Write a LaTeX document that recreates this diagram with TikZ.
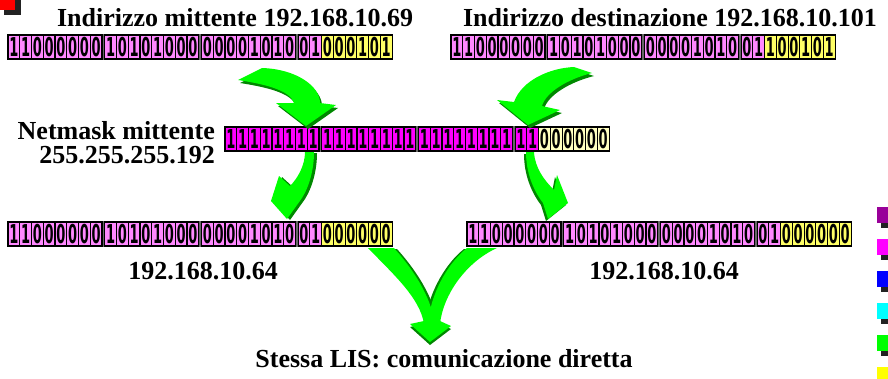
\documentclass[tikz,border=0pt]{standalone}
\usepackage{fontspec}
\setmainfont{Liberation Serif}
\newfontfamily\bitfont{DejaVu Sans}
\usepackage{graphicx}
\definecolor{netpink}{HTML}{FF88FF}
\definecolor{hostyel}{HTML}{FFFF66}
\definecolor{maskmag}{HTML}{FF00FF}
\definecolor{maskcream}{HTML}{FFFFC0}
\definecolor{arrowgreen}{HTML}{00FF00}
\definecolor{arrowdark}{HTML}{008800}
\definecolor{shadowgray}{HTML}{222222}
\definecolor{lgpurple}{HTML}{990099}
\definecolor{lgmagenta}{HTML}{FF00FF}
\definecolor{lgblue}{HTML}{0000FF}
\definecolor{lgcyan}{HTML}{00FFFF}
\definecolor{lggreen}{HTML}{00FF00}
\definecolor{lgyellow}{HTML}{FFFF00}
\newcommand{\bitdigit}[1]{\scalebox{0.5}[1]{\bitfont\bfseries\fontsize{26}{26}\selectfont #1}}
\def\cw{11.75}\def\gp{2.7}\def\ch{24}
\tikzset{
  bitcell/.style={draw=black, line width=1.2pt, minimum width=11.75pt, minimum height=24pt, inner sep=0pt, outer sep=0pt, text=black},
  bytegap/.style={fill=black!60},
  lbl/.style={inner sep=0pt, font=\bfseries\fontsize{26}{30}\selectfont, anchor=base},
  legendsq/.style={minimum width=16pt, minimum height=16pt, inner sep=0pt, outer sep=0pt},
}
\newcommand{\bitrow}[6]{%
  \fill[bytegap] (#2-1,#3-1) rectangle ++(32*\cw+3*\gp+2,\ch+2);
  \foreach \b [count=\i from 0] in {#4}{%
    \pgfmathtruncatemacro{\byi}{\i/8}%
    \pgfmathsetmacro{\xx}{#2+(\i+0.5)*\cw+\byi*\gp}%
    \ifnum\i<26\relax \def\fc{#5}\else \def\fc{#6}\fi
    \node[bitcell,fill=\fc] (#1-\i) at (\xx,#3+\ch/2) {\bitdigit{\b}};
  }}
\newcommand{\garrow}[3]{\fill[arrowdark,shift={(#1,#2)}] #3; \fill[arrowgreen] #3;}
\begin{document}
\begin{tikzpicture}[x=1pt,y=-1pt]
\useasboundingbox (0,0) rectangle (888,378);
\fill[white] (0,0) rectangle (888,378);

% corner mark
\fill[shadowgray] (4,-1) rectangle (21,15);
\fill[red] (-1,-6) rectangle (15,10);

% legend squares
\foreach \c [count=\k from 0] in {lgpurple,lgmagenta,lgblue,lgcyan,lggreen,lgyellow}{
  \fill[shadowgray] (881,{212+32*\k}) rectangle ++(16,16);
  \node[legendsq,fill=\c,anchor=north west] (leg\k) at (877,{207+32*\k}) {};
}

% labels
\node[lbl] (srclbl) at (235,26) {Indirizzo mittente 192.168.10.69};
\node[lbl] (dstlbl) at (670,26) {Indirizzo destinazione 192.168.10.101};
\node[lbl,anchor=base east] (masklbl1) at (215,139) {Netmask mittente};
\node[lbl,anchor=base east] (masklbl2) at (215,163) {255.255.255.192};
\node[lbl] (netA) at (203,279) {192.168.10.64};
\node[lbl] (netB) at (664,279) {192.168.10.64};
\node[lbl] (result) at (444,367) {Stessa LIS: comunicazione diretta};

% bit rows
\bitrow{src}{8}{35}{1,1,0,0,0,0,0,0,1,0,1,0,1,0,0,0,0,0,0,0,1,0,1,0,0,1,0,0,0,1,0,1}{netpink}{hostyel}
\bitrow{dst}{451}{35}{1,1,0,0,0,0,0,0,1,0,1,0,1,0,0,0,0,0,0,0,1,0,1,0,0,1,1,0,0,1,0,1}{netpink}{hostyel}
\bitrow{mask}{225}{127}{1,1,1,1,1,1,1,1,1,1,1,1,1,1,1,1,1,1,1,1,1,1,1,1,1,1,0,0,0,0,0,0}{maskmag}{maskcream}
\bitrow{resA}{8}{222}{1,1,0,0,0,0,0,0,1,0,1,0,1,0,0,0,0,0,0,0,1,0,1,0,0,1,0,0,0,0,0,0}{netpink}{hostyel}
\bitrow{resB}{467}{222}{1,1,0,0,0,0,0,0,1,0,1,0,1,0,0,0,0,0,0,0,1,0,1,0,0,1,0,0,0,0,0,0}{netpink}{hostyel}

% arrows: source / destination -> netmask
\garrow{2}{3}{(238,80) .. controls (264,84) and (290,90) .. (294,103) -- (276,103) -- (306,126) -- (336,105) -- (320,103) .. controls (320,86) and (296,69) .. (262,68) -- cycle}
\garrow{2}{3}{(592,73) .. controls (568,79) and (546,92) .. (542,106) -- (560,110) -- (528,125) -- (497,100) -- (514,102) .. controls (522,80) and (550,68) .. (574,67) -- cycle}
% netmask -> results
\garrow{3}{1}{(305,152) .. controls (305,165) and (298,178) .. (290,186) -- (279,176) -- (271,201) -- (287,219) -- (302,198) .. controls (310,185) and (314,168) .. (314,152) -- cycle}
\garrow{-2}{2}{(526,152) .. controls (526,172) and (533,190) .. (543,203) -- (548,219) -- (568,203) -- (557,175) -- (554,190) .. controls (544,180) and (535,168) .. (534,152) -- cycle}

% converging V arrow
\fill[arrowdark,shift={(3,1)}] (368,248) .. controls (394,275) and (420,298) .. (424,324) -- (432,311) .. controls (426,290) and (412,268) .. (394,248) -- cycle;
\fill[arrowdark,shift={(-3,1)}] (497,248) .. controls (466,262) and (443,295) .. (440,324) -- (430,311) .. controls (434,290) and (448,263) .. (467,248) -- cycle;
\fill[arrowdark,shift={(0,3)}] (410,324) -- (424,321) -- (431,309) -- (440,321) -- (451,326) -- (430,342) -- cycle;
\fill[arrowgreen] (368,248) .. controls (394,275) and (420,298) .. (424,324) -- (432,311) .. controls (426,290) and (412,268) .. (394,248) -- cycle;
\fill[arrowgreen] (497,248) .. controls (466,262) and (443,295) .. (440,324) -- (430,311) .. controls (434,290) and (448,263) .. (467,248) -- cycle;
\fill[arrowgreen] (410,324) -- (424,321) -- (431,309) -- (440,321) -- (451,326) -- (430,342) -- cycle;
\end{tikzpicture}
\end{document}
